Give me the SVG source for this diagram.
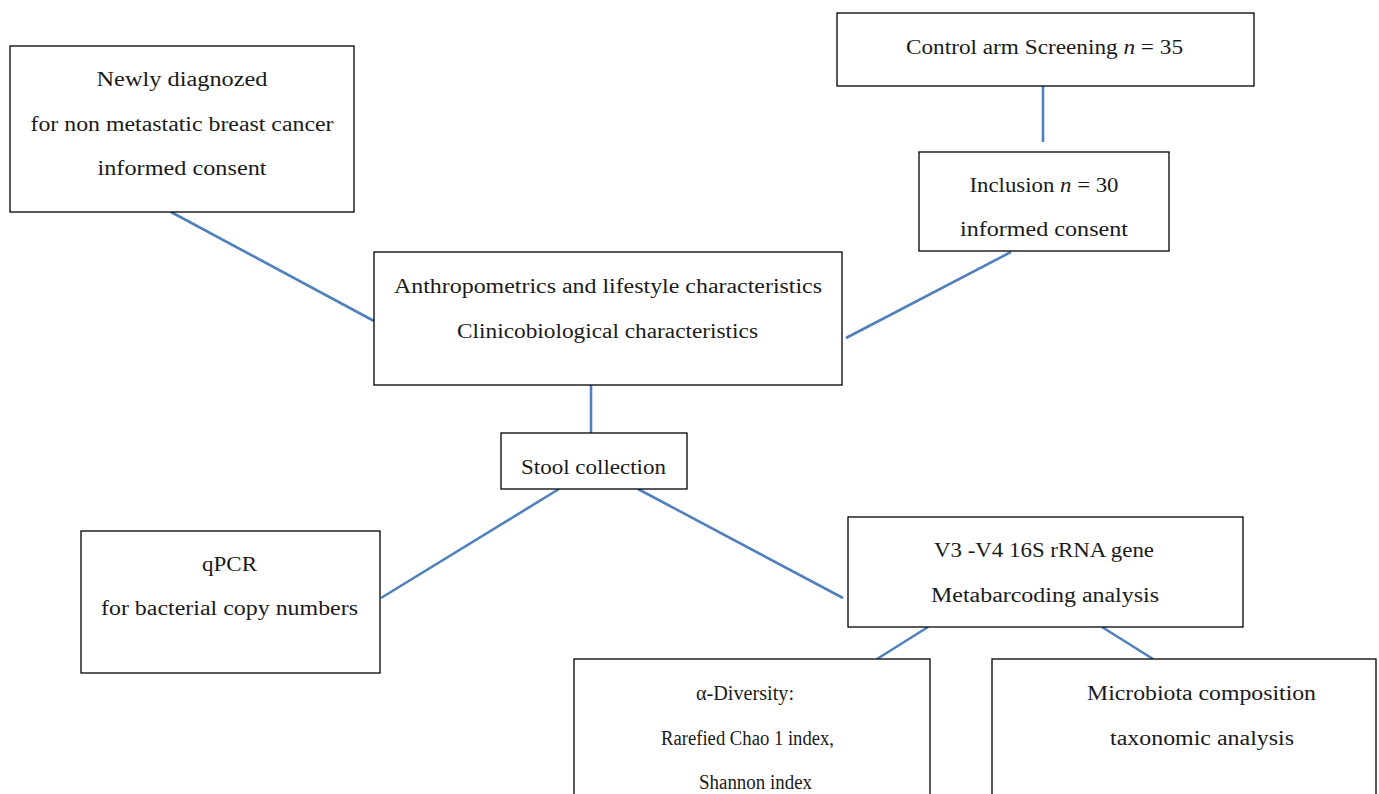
<svg xmlns="http://www.w3.org/2000/svg" width="1379" height="794" viewBox="0 0 1379 794">
<style>
.box{fill:#fff;stroke:#000;stroke-width:1.3}
.t{font-family:"Liberation Serif","Times New Roman",serif;font-size:20px;fill:#1a1a1a;text-anchor:middle}
.c{stroke:#4f81bd;stroke-width:2.6;fill:none}
</style>
<rect width="1379" height="794" fill="#fff"/>
<g id="connectors">
<line class="c" x1="171" y1="212" x2="374" y2="321"/>
<line class="c" x1="1043" y1="86" x2="1043" y2="142"/>
<line class="c" x1="1011" y1="252" x2="846" y2="338"/>
<line class="c" x1="591" y1="385" x2="591" y2="433"/>
<line class="c" x1="559" y1="489" x2="381" y2="598"/>
<line class="c" x1="638" y1="489" x2="843" y2="598"/>
<line class="c" x1="928" y1="627" x2="877" y2="659"/>
<line class="c" x1="1102" y1="627" x2="1153" y2="659"/>
</g>
<g id="newly">
<rect class="box" x="10" y="46" width="344" height="166"/>
<text class="t" x="182" y="86" textLength="171" lengthAdjust="spacingAndGlyphs">Newly diagnozed</text>
<text class="t" x="182" y="131" textLength="303" lengthAdjust="spacingAndGlyphs">for non metastatic breast cancer</text>
<text class="t" x="182" y="175" textLength="169" lengthAdjust="spacingAndGlyphs">informed consent</text>
</g>
<g id="control">
<rect class="box" x="837" y="13" width="417" height="73"/>
<text class="t" x="1044.5" y="54" textLength="277" lengthAdjust="spacingAndGlyphs">Control arm Screening <tspan font-style="italic">n</tspan> = 35</text>
</g>
<g id="inclusion">
<rect class="box" x="919" y="152" width="250" height="99"/>
<text class="t" x="1044" y="192" textLength="149" lengthAdjust="spacingAndGlyphs">Inclusion <tspan font-style="italic">n</tspan> = 30</text>
<text class="t" x="1044" y="236" textLength="168" lengthAdjust="spacingAndGlyphs">informed consent</text>
</g>
<g id="anthro">
<rect class="box" x="374" y="252" width="468" height="133"/>
<text class="t" x="608" y="293" textLength="428" lengthAdjust="spacingAndGlyphs">Anthropometrics and lifestyle characteristics</text>
<text class="t" x="607.5" y="338" textLength="301" lengthAdjust="spacingAndGlyphs">Clinicobiological characteristics</text>
</g>
<g id="stool">
<rect class="box" x="501" y="433" width="186" height="56"/>
<text class="t" x="593.5" y="474" textLength="145" lengthAdjust="spacingAndGlyphs">Stool collection</text>
</g>
<g id="qpcr">
<rect class="box" x="81" y="531" width="299" height="142"/>
<text class="t" x="229.5" y="571" textLength="55" lengthAdjust="spacingAndGlyphs">qPCR</text>
<text class="t" x="229.5" y="615" textLength="257" lengthAdjust="spacingAndGlyphs">for bacterial copy numbers</text>
</g>
<g id="v3v4">
<rect class="box" x="848" y="517" width="395" height="110"/>
<text class="t" x="1044" y="557" textLength="220" lengthAdjust="spacingAndGlyphs">V3 -V4 16S rRNA gene</text>
<text class="t" x="1045" y="602" textLength="228" lengthAdjust="spacingAndGlyphs">Metabarcoding analysis</text>
</g>
<g id="alpha">
<rect class="box" x="574" y="659" width="356" height="145"/>
<text class="t" x="745" y="700" textLength="98" lengthAdjust="spacingAndGlyphs">α-Diversity:</text>
<text class="t" x="747.5" y="745" textLength="173" lengthAdjust="spacingAndGlyphs">Rarefied Chao 1 index,</text>
<text class="t" x="755.5" y="789" textLength="113" lengthAdjust="spacingAndGlyphs">Shannon index</text>
</g>
<g id="microbiota">
<rect class="box" x="992" y="659" width="384" height="145"/>
<text class="t" x="1201.5" y="700" textLength="229" lengthAdjust="spacingAndGlyphs">Microbiota composition</text>
<text class="t" x="1202" y="745" textLength="184" lengthAdjust="spacingAndGlyphs">taxonomic analysis</text>
</g>
</svg>
